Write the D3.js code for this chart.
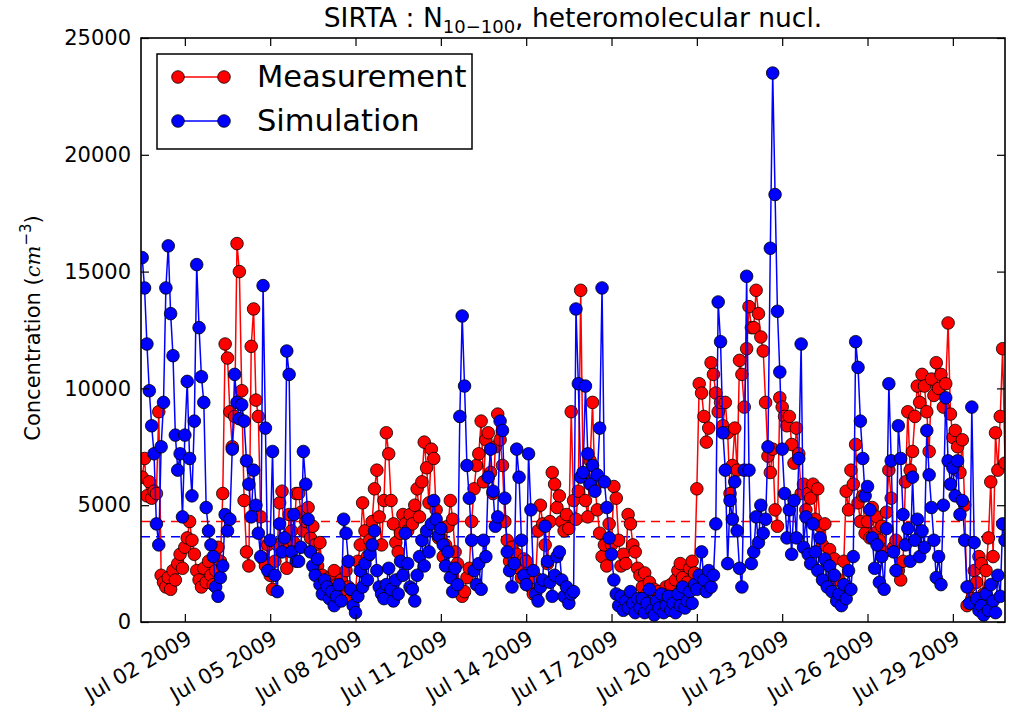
<!DOCTYPE html>
<html>
<head>
<meta charset="utf-8">
<script src="https://cdn.jsdelivr.net/npm/d3@7"></script>
<style>
  body { margin: 0; background: #fff; }
  svg { font-family: 'DejaVu Sans', sans-serif; }
</style>
</head>
<body>
<div id="chart"></div>
<script>
// samples every 2 hours from Jun 30 2009 12:00
const startTime = new Date(2009, 5, 30, 12);
const stepHours = 2;

const measurement = [
  6200, 7000, 5400, 6000, 5300, 5600,                                  // Jun 30 (12h-22h)
  5500, 9000, 2000, 1700, 1500, 1900, 1400, 2200, 1800, 2500, 2900, 2300, // Jul 01
  3200, 3600, 4300, 3500, 2900, 2200, 1800, 1500, 2300, 1700, 2600, 2000, // Jul 02
  1600, 2200, 3200, 2600, 5500, 11900, 11300, 9000, 7500, 8800, 16200, 15000, // Jul 03
  9900, 5200, 3000, 2400, 11800, 13400, 9500, 8800, 4500, 2700, 2400, 3300, // Jul 04
  2000, 1400, 2600, 3300, 5100, 5600, 3400, 2300, 4600, 3900, 3400, 5500, // Jul 05
  5500, 4700, 3900, 4300, 4900, 3600, 4100, 3300, 2400, 3400, 2000, 1600, // Jul 06
  1400, 1900, 1200, 2200, 1600, 1100, 1800, 1300, 2200, 1500, 1000, 1300, // Jul 07
  1300, 2600, 3300, 5100, 3900, 2800, 3500, 4300, 5700, 6500, 4500, 3300, // Jul 08
  5200, 8100, 7200, 5200, 4200, 3400, 3000, 3800, 4600, 4200, 3900, 4600, // Jul 09
  4200, 5000, 5700, 4500, 6000, 7700, 6600, 5100, 7400, 7000, 4800, 3600, // Jul 10
  3600, 2800, 3300, 4100, 5200, 4400, 3000, 2500, 1400, 1100, 1300, 1900, // Jul 11
  2300, 4300, 5700, 6700, 7200, 8600, 6000, 7800, 8100, 6400, 5500, 7500, // Jul 12
  8900, 7800, 6700, 4300, 3500, 2600, 3200, 2400, 2900, 2300, 1900, 2700, // Jul 13
  2600, 2000, 1500, 1200, 1900, 3900, 5000, 4200, 3300, 2500, 4300, 6400, // Jul 14
  5900, 4900, 5400, 4300, 3900, 4600, 4000, 9000, 5200, 4400, 5600, 14200, // Jul 15
  6300, 5200, 4500, 6900, 9400, 5800, 4800, 3800, 2800, 3300, 2400, 4200, // Jul 16
  3300, 5800, 5300, 3500, 2400, 2900, 2500, 4600, 4200, 3300, 3000, 2300, // Jul 17
  2000, 1500, 2100, 1200, 1700, 1000, 1400, 800, 1300, 900, 1100, 1500,  // Jul 18
  1200, 1600, 1000, 1800, 2200, 2500, 1900, 1400, 1700, 2300, 2600, 2100, // Jul 19
  5700, 10200, 9800, 8800, 7700, 8300, 11100, 10600, 9800, 9000, 9400, 8400, // Jul 20
  9400, 8100, 5500, 6700, 8300, 6500, 11200, 10600, 9200, 11700, 13500, 12600, // Jul 21
  12600, 14200, 13200, 12200, 11600, 9400, 7100, 6400, 7400, 4800, 4100, 9600, // Jul 22
  9200, 8800, 8400, 8800, 7600, 6800, 8300, 7200, 5500, 5900, 4800, 5500, // Jul 23
  5300, 5900, 4400, 5700, 4100, 3300, 4200, 2600, 3100, 2000, 2700, 1800, // Jul 24
  1800, 1200, 2600, 5600, 4800, 6500, 5900, 7600, 5100, 4300, 5400, 3800, // Jul 25
  4300, 3600, 4900, 3800, 4500, 3500, 4100, 3000, 4700, 6500, 5300, 3200, // Jul 26
  3500, 2200, 1800, 2600, 6000, 9000, 6500, 7300, 8800, 10100, 9400, 10600, // Jul 27
  10100, 9000, 7300, 10400, 9700, 11100, 10000, 10600, 9200, 10200, 12800, 8900, // Jul 28
  7900, 8200, 7500, 6400, 7800, 5000, 700, 1500, 1000, 2200, 1700, 2800, // Jul 29
  2500, 1200, 2200, 3600, 6000, 2800, 8100, 6500, 8800, 11700, 6800      // Jul 30 (0h-20h)
];

const simulation = [
  15600, 14300, 11900, 9900, 8400, 7200,                               // Jun 30 (12h-22h)
  4200, 3300, 7500, 9400, 14300, 16100, 13200, 11400, 8000, 6500, 7200, 4500, // Jul 01
  8000, 10300, 7000, 5400, 8600, 15300, 12600, 10500, 9400, 4900, 3900, 3300, // Jul 02
  2800, 1500, 1100, 1900, 2400, 4600, 3900, 4400, 7400, 10600, 9400, 8700, // Jul 03
  9300, 8600, 6900, 5900, 4500, 6500, 5000, 3800, 2800, 14400, 8300, 2200, // Jul 04
  3500, 7300, 2000, 1300, 4200, 3000, 3600, 11600, 10600, 3000, 4600, 2600, // Jul 05
  2600, 3200, 7300, 5900, 4400, 3000, 2400, 2000, 2700, 1600, 1200, 1800, // Jul 06
  1500, 1000, 1300, 700, 1100, 1600, 900, 4400, 3800, 2600, 1400, 700,   // Jul 07
  400, 1100, 2200, 1500, 2500, 1800, 2900, 3300, 3900, 2200, 1500, 1200, // Jul 08
  1000, 1600, 2300, 1400, 900, 1800, 1200, 2600, 2000, 3800, 2500, 1500, // Jul 09
  1400, 900, 2000, 2800, 3500, 2400, 3900, 3000, 4200, 5200, 4400, 3700, // Jul 10
  4000, 3300, 2400, 3000, 1900, 1300, 2300, 1600, 8800, 13100, 10100, 6700, // Jul 11
  5300, 3500, 2200, 1600, 2500, 1400, 3500, 2800, 6200, 7400, 5600, 4100, // Jul 12
  4500, 8600, 8200, 5300, 3000, 2200, 1500, 2500, 7400, 6200, 3500, 2000, // Jul 13
  1600, 7200, 4800, 2200, 1200, 900, 1500, 1800, 4100, 2600, 1700, 1100, // Jul 14
  2000, 2800, 3000, 1800, 1100, 1500, 800, 1200, 1300, 13400, 10200, 6200, // Jul 15
  6400, 10100, 7200, 5900, 6700, 5600, 6300, 8300, 14300, 6000, 4900, 3600, // Jul 16
  2900, 1800, 1200, 700, 1100, 500, 900, 600, 1300, 800, 400, 1000,       // Jul 17
  600, 1000, 400, 800, 1400, 500, 300, 900, 600, 1200, 400, 700,          // Jul 18
  1100, 500, 800, 400, 1200, 700, 1500, 600, 900, 1300, 800, 1600,        // Jul 19
  1400, 2000, 3000, 1800, 1300, 2200, 1500, 2000, 4200, 13700, 12000, 8100, // Jul 20
  6500, 2500, 5200, 4400, 6000, 3900, 2300, 1500, 6500, 14800, 6500, 2500, // Jul 21
  3000, 4500, 3400, 5000, 3800, 4400, 7500, 16000, 23500, 18300, 13300, 10700, // Jul 22
  7400, 5500, 3600, 4800, 2900, 5200, 3600, 7000, 11900, 3200, 4500, 2900, // Jul 23
  2500, 4200, 3000, 2200, 3600, 1800, 2700, 1500, 2400, 1300, 2000, 900, // Jul 24
  1200, 700, 1600, 1000, 2200, 1400, 2800, 12000, 10900, 8600, 7000, 5400, // Jul 25
  5800, 4800, 3600, 2300, 3300, 1700, 2800, 1400, 4000, 10200, 6900, 3000, // Jul 26
  2200, 8400, 7000, 4600, 3300, 4000, 2600, 6200, 3500, 4400, 2800, 3900, // Jul 27
  3200, 8200, 6300, 4900, 3500, 1900, 2800, 1600, 5000, 9600, 6900, 5900, // Jul 28
  6600, 5400, 6900, 4600, 5200, 3500, 1500, 800, 9200, 3400, 1000, 500,  // Jul 29
  700, 300, 1200, 500, 1600, 900, 400, 2000, 1100, 4200, 3500            // Jul 30 (0h-20h)
];

// dashed horizontal lines (series means)
const meanMeasurement = 4300;
const meanSimulation = 3650;

const seriesNames = ['Measurement', 'Simulation'];
const seriesColors = ['#ff0000', '#0000ff'];

const xTickDates = ['2009-07-02', '2009-07-05', '2009-07-08', '2009-07-11', '2009-07-14',
                    '2009-07-17', '2009-07-20', '2009-07-23', '2009-07-26', '2009-07-29'];
const yTicks = [0, 5000, 10000, 15000, 20000, 25000];

const width = 1017, height = 721;
const margin = { top: 38, right: 12, bottom: 99, left: 141 };
const innerW = width - margin.left - margin.right;
const innerH = height - margin.top - margin.bottom;

const parseDay = d3.timeParse('%Y-%m-%d');
const fmt = d3.timeFormat('%b %d %Y');

const xScale = d3.scaleTime()
  .domain([new Date(2009, 5, 30, 11), new Date(2009, 6, 30, 20)])
  .range([0, innerW]);
const yScale = d3.scaleLinear()
  .domain([0, 25000])
  .range([innerH, 0]);

const timeAt = i => d3.timeHour.offset(startTime, i * stepHours);
const series = [measurement, simulation].map((vals, k) => ({
  name: seriesNames[k],
  color: seriesColors[k],
  points: vals.map((v, i) => ({ t: timeAt(i), v }))
}));

const svg = d3.select('#chart').append('svg')
  .attr('width', width)
  .attr('height', height);

svg.append('defs').append('clipPath').attr('id', 'clip')
  .append('rect').attr('width', innerW).attr('height', innerH);

const g = svg.append('g').attr('transform', `translate(${margin.left}, ${margin.top})`);

// mean lines
const plot = g.append('g').attr('clip-path', 'url(#clip)');
[meanMeasurement, meanSimulation].forEach((m, k) => {
  plot.append('line')
    .attr('x1', 0).attr('x2', innerW)
    .attr('y1', yScale(m)).attr('y2', yScale(m))
    .attr('stroke', seriesColors[k])
    .attr('stroke-width', 1.5)
    .attr('stroke-dasharray', '9,6');
});

const line = d3.line()
  .x(d => xScale(d.t))
  .y(d => yScale(d.v));

series.forEach(s => {
  const sg = plot.append('g');
  sg.append('path')
    .datum(s.points)
    .attr('fill', 'none')
    .attr('stroke', s.color)
    .attr('stroke-width', 1.5)
    .attr('d', line);
  sg.selectAll('circle')
    .data(s.points)
    .enter().append('circle')
    .attr('cx', d => xScale(d.t))
    .attr('cy', d => yScale(d.v))
    .attr('r', 6.3)
    .attr('fill', s.color)
    .attr('stroke', '#000')
    .attr('stroke-width', 0.8);
});

// axes, ticks inside on all four sides
const xTicks = xTickDates.map(parseDay);
const tickLen = 8;

g.append('g')
  .attr('transform', `translate(0, ${innerH})`)
  .call(d3.axisBottom(xScale).tickValues(xTicks).tickSize(-tickLen).tickFormat(fmt))
  .call(a => a.select('.domain').remove())
  .selectAll('text')
  .attr('font-size', 21)
  .attr('font-family', 'DejaVu Sans')
  .attr('fill', '#000')
  .attr('text-anchor', 'end')
  .attr('dy', '0.75em')
  .attr('y', 0)
  .attr('transform', 'translate(0, 7) rotate(-30)');

g.append('g')
  .call(d3.axisTop(xScale).tickValues(xTicks).tickSize(-tickLen).tickFormat(''))
  .call(a => a.select('.domain').remove());

g.append('g')
  .call(d3.axisLeft(yScale).tickValues(yTicks).tickSize(-tickLen).tickPadding(10)
    .tickFormat(d3.format('d')))
  .call(a => a.select('.domain').remove())
  .selectAll('text')
  .attr('font-size', 21)
  .attr('font-family', 'DejaVu Sans')
  .attr('fill', '#000');

g.append('g')
  .attr('transform', `translate(${innerW}, 0)`)
  .call(d3.axisRight(yScale).tickValues(yTicks).tickSize(-tickLen).tickFormat(''))
  .call(a => a.select('.domain').remove());

g.selectAll('.tick line').attr('stroke', '#000').attr('stroke-width', 1.2);

g.append('rect')
  .attr('width', innerW).attr('height', innerH)
  .attr('fill', 'none')
  .attr('stroke', '#000')
  .attr('stroke-width', 1.6);

// title
const title = svg.append('text')
  .attr('x', margin.left + innerW / 2)
  .attr('y', 27)
  .attr('text-anchor', 'middle')
  .attr('font-size', 26.5)
  .attr('fill', '#000');
title.append('tspan').text('SIRTA : N');
title.append('tspan').attr('font-size', 18).attr('dy', 6).text('10\u2212100');
title.append('tspan').attr('dy', -6).text(', heteromolecular nucl.');

// y label
const ylab = svg.append('text')
  .attr('transform', `translate(40, ${margin.top + innerH / 2 - 2}) rotate(-90)`)
  .attr('text-anchor', 'middle')
  .attr('font-size', 21)
  .attr('fill', '#000');
ylab.append('tspan').text('Concentration (');
ylab.append('tspan').attr('font-style', 'italic').attr('font-family', 'DejaVu Serif').text('cm');
ylab.append('tspan').attr('font-size', 15).attr('dy', -9).text('\u22123');
ylab.append('tspan').attr('dy', 9).text(')');

// legend
const legend = svg.append('g');
legend.append('rect')
  .attr('x', 157).attr('y', 54)
  .attr('width', 315).attr('height', 95)
  .attr('fill', '#fff')
  .attr('stroke', '#000')
  .attr('stroke-width', 1.5);
series.forEach((s, k) => {
  const ly = 77 + k * 44;
  legend.append('line')
    .attr('x1', 178).attr('x2', 224)
    .attr('y1', ly).attr('y2', ly)
    .attr('stroke', s.color).attr('stroke-width', 1.5);
  [178, 224].forEach(cx => legend.append('circle')
    .attr('cx', cx).attr('cy', ly).attr('r', 6.3)
    .attr('fill', s.color).attr('stroke', '#000').attr('stroke-width', 0.8));
  legend.append('text')
    .attr('x', 257).attr('y', ly + 10)
    .attr('font-size', 30.5)
    .attr('fill', '#000')
    .text(s.name);
});
</script>
</body>
</html>
